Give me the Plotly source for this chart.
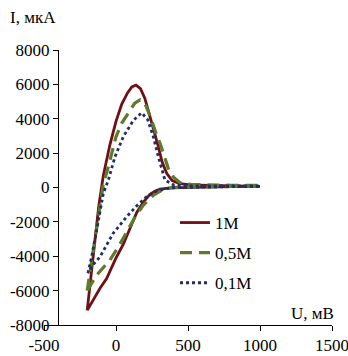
import plotly.graph_objects as go

# ---- data (mV, µA) ----
x_1m = [-200, -160, -120, -88, -60, -42, 0, 40, 80, 110, 139, 170, 200, 224, 248, 270, 294, 320, 352, 390, 444, 520, 650, 800, 1000,
        1000, 800, 650, 520, 440, 380, 306, 270, 236, 190, 144, 100, 51, 0, -65, -110, -160, -200]
y_1m = [-7150, -4100, -1100, 700, 1800, 2500, 3850, 4850, 5500, 5850, 5960, 5750, 5200, 4510, 3850, 3100, 2370, 1500, 826, 400, 220, 150, 120, 110, 100,
        60, 50, 40, 30, 10, -20, -100, -220, -400, -850, -1450, -2350, -3300, -4100, -5300, -5850, -6550, -7150]

x_05m = [-200, -160, -120, -88, -60, -42, 0, 40, 86, 130, 167, 200, 230, 259, 285, 306, 335, 363, 400, 444, 520, 650, 800, 1000,
         1000, 800, 650, 520, 440, 380, 320, 260, 190, 130, 74, 20, -42, -90, -123, -160, -200]
y_05m = [-6000, -3800, -1400, 200, 1000, 1600, 2950, 3750, 4350, 4900, 5100, 4900, 4300, 3540, 3000, 2570, 1800, 1120, 600, 280, 180, 150, 130, 120,
         80, 60, 50, 40, 20, -20, -150, -450, -1020, -1750, -2600, -3400, -4220, -4700, -4990, -5450, -6000]

x_01m = [-195, -169, -134, -88, -53, -7, 51, 120, 178, 220, 259, 294, 340, 400, 500, 650, 800, 1000,
         1000, 800, 650, 500, 420, 350, 280, 213, 140, 74, -19, -111, -160, -195]
y_01m = [-4990, -4030, -2470, -340, 436, 1790, 2960, 3900, 4350, 3950, 2960, 1790, 436, 150, 100, 100, 100, 100,
         60, 50, 40, 20, 0, -60, -200, -535, -1100, -1700, -2660, -4030, -4500, -4990]

series_names = ["1M", "0,5M", "0,1M"]

x_ticks = [-500, 0, 500, 1000, 1500]
x_ticktext = ["-500", "0", "500", "1000", "1500"]
y_ticks = [-8000, -6000, -4000, -2000, 0, 2000, 4000, 6000, 8000]
y_ticktext = ["-8000", "-6000", "-4000", "-2000", "0", "2000", "4000", "6000", "8000"]

FONT = "Liberation Serif, Times New Roman, serif"
FS = 17

fig = go.Figure()
fig.add_trace(go.Scatter(x=x_1m, y=y_1m, mode="lines", name=series_names[0], legendgroup="a",
                         line=dict(color="#6e1016", width=2.8)))
fig.add_trace(go.Scatter(x=x_05m, y=y_05m, mode="lines", name=series_names[1], legendgroup="b",
                         line=dict(color="#5e7a2c", width=3.2, dash="12px,7px")))
fig.add_trace(go.Scatter(x=x_01m, y=y_01m, mode="lines", name=series_names[2], legendgroup="c",
                         line=dict(color="#1d2f66", width=2.8, dash="dot")))

L, R, T, B = 44, 16, 50, 31
W, H = 348, 356
plot_w = W - L - R
plot_h = H - T - B
yaxis_pos = (58 - L) / plot_w

def px_x(px):
    return (px - L) / plot_w

def px_y(py):
    return (H - B - py) / plot_h

fig.update_layout(
    width=W, height=H,
    margin=dict(l=L, r=R, t=T, b=B, pad=0, autoexpand=False),
    paper_bgcolor="white", plot_bgcolor="white",
    font=dict(family=FONT, size=FS, color="black"),
    showlegend=True,
    legend=dict(x=px_x(175), y=px_y(205), xanchor="left", yanchor="top",
                bgcolor="rgba(0,0,0,0)", font=dict(family=FONT, size=FS, color="black"),
                tracegroupgap=5, itemwidth=30),
    xaxis=dict(range=[-500, 1500], tickvals=x_ticks, ticktext=x_ticktext, automargin=False,
               ticklabeloverflow="allow",
               showline=True, linecolor="black", linewidth=1, ticks="outside", ticklen=5, tickcolor="black",
               showgrid=False, zeroline=False, tickfont=dict(family=FONT, size=FS, color="black")),
    yaxis=dict(range=[-8000, 8000], tickvals=y_ticks, ticktext=y_ticktext, anchor="free", position=yaxis_pos,
               automargin=False, ticklabeloverflow="allow",
               showline=True, linecolor="black", linewidth=1, ticks="outside", ticklen=5, tickcolor="black",
               showgrid=False, zeroline=False, tickfont=dict(family=FONT, size=FS, color="black")),
    annotations=[
        dict(text="I, мкА", xref="paper", yref="paper", x=px_x(33), y=px_y(18),
             xanchor="center", yanchor="middle", showarrow=False, font=dict(family=FONT, size=FS, color="black")),
        dict(text="U, мВ", xref="paper", yref="paper", x=px_x(312), y=px_y(313),
             xanchor="center", yanchor="middle", showarrow=False, font=dict(family=FONT, size=FS, color="black")),
    ],
)

fig.write_html("out.html", config={"displayModeBar": False},
               post_script="document.body.style.margin='0';document.body.style.overflow='hidden';")
